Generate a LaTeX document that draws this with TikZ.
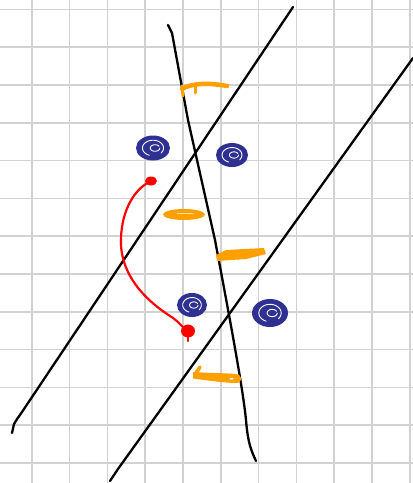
\documentclass[tikz,border=0pt]{standalone}
\usetikzlibrary{calc}
\definecolor{gridgray}{HTML}{D2D2D2}
\definecolor{inkblue}{HTML}{2E3192}
\definecolor{inkorange}{HTML}{FFA000}
\definecolor{inkred}{HTML}{FF0000}
\tikzset{
  gridline/.style={draw=gridgray, line width=1.6pt},
  pen/.style={draw=black, line width=2.3pt, line cap=round, line join=round},
  redpen/.style={draw=inkred, line width=2.2pt, line cap=round, line join=round},
  orangepen/.style={draw=inkorange, line width=4.5pt, line cap=round, line join=round},
  gap/.style={draw=white, line width=0.9pt, line cap=round},
}
% scribbled blob: centre y, centre x, x radius, y radius
\newcommand{\scribble}[4]{%
  \fill[inkblue] (#2,#1) ellipse ({#3} and {#4});
  \draw[gap] plot[domain=110:400, samples=60, smooth]
    ({#2 + 0.62*#3*cos(\x)}, {#1 + 0.62*#4*sin(\x)});
  \draw[gap] plot[domain=0:330, samples=40, smooth]
    ({#2 + 0.12*#3 + 0.28*#3*cos(\x)}, {#1 + 0.26*#4*sin(\x)});
}
\begin{document}
\begin{tikzpicture}[x=1pt, y=-1pt]
\useasboundingbox (0,0) rectangle (413,483);
\fill[white] (0,0) rectangle (413,483);

% squared paper
\foreach \i in {0,...,10} {
  \draw[gridline] ({31.7+37.8*\i},0) -- ({31.7+37.8*\i},483);
}
\foreach \j in {0,...,12} {
  \draw[gridline] (0,{9.3+37.8*\j}) -- (413,{9.3+37.8*\j});
}

% three black strokes
\coordinate (a0) at (12,433);
\coordinate (a1) at (14,424);
\coordinate (a2) at (293,7);
\draw[pen] (a0) -- (a1) .. controls (16,420) and (18,418) .. (22,412) -- (a2);

\coordinate (b0) at (110,481);
\coordinate (b1) at (413,58);
\draw[pen] (b0) .. controls (112,478) and (114,475) .. (118,469) -- (b1);

\coordinate (c0) at (168,25);
\coordinate (c1) at (256,461);
\draw[pen] (c0) -- (172,33) -- (188,120) -- (215,240)
  .. controls (232,330) and (243,390) .. (246,420)
  .. controls (248,445) and (252,452) .. (c1);

% blue scribbles
\scribble{148}{153}{17}{12.5}
\scribble{155}{232}{16}{12}
\scribble{305}{192}{15}{12}
\scribble{313}{270}{18}{14}

% red curve with its two dots
\coordinate (r0) at (151,181);
\coordinate (r1) at (188,331);
\fill[inkred] (r0) ellipse (6 and 4.5);
\fill[inkred] (r1) ellipse (7 and 6.5);
\draw[redpen] (r1) -- (188,341);
\draw[redpen] (r0) .. controls (132,190) and (120,215) .. (121,245)
  .. controls (123,280) and (150,303) .. (170,316)
  .. controls (180,322) and (182,328) .. (r1);

% orange marks
\draw[orangepen] (182,89) .. controls (190,84) and (205,82) .. (227,86);
\draw[orangepen, line width=3pt] (195,86) -- (195,93);
\draw[orangepen, line width=3pt] (182,86) -- (183,96);

\fill[inkorange] (184,214.5) ellipse (21 and 5.5);
\draw[white, line width=0.5pt] (177,213.8) .. controls (183,213.2) and (189,213.2) .. (194,214);

\fill[inkorange] (216,255) -- (226,250) -- (264,248) -- (266,254) -- (246,259) -- (217,261) -- cycle;

\draw[orangepen, line width=3.5pt] (196,373) -- (200,367);
\fill[inkorange] (193,372) .. controls (205,373) and (225,373) .. (236,374)
  .. controls (243,375) and (243,383) .. (236,383)
  .. controls (225,383) and (205,380) .. (193,378.5) -- cycle;
\fill[white] (231.5,378.8) ellipse (2 and 0.9);
\end{tikzpicture}
\end{document}
